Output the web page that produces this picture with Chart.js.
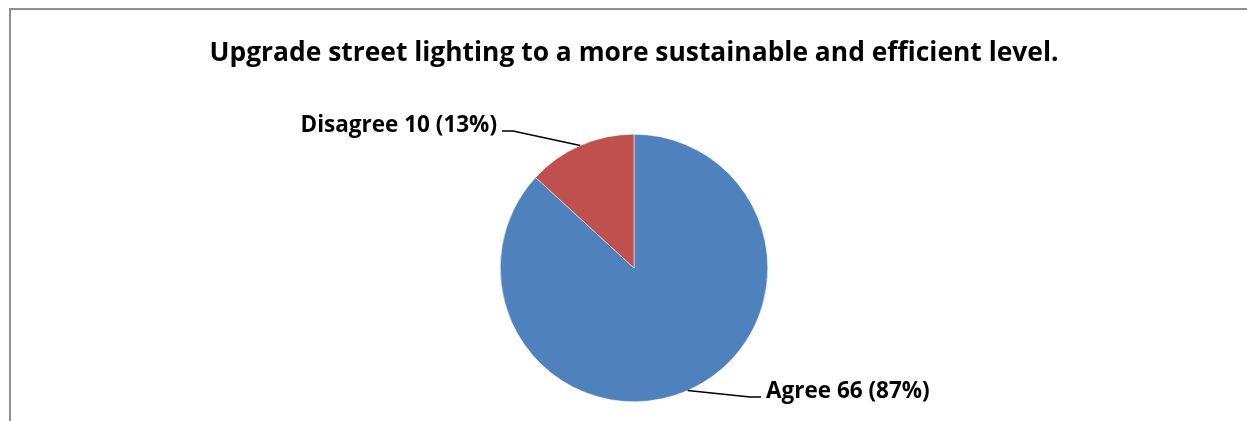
<!DOCTYPE html>
<html>
<head>
<meta charset="utf-8">
<script src="https://cdn.jsdelivr.net/npm/chart.js@4.4.1/dist/chart.umd.min.js"></script>
<style>
  html, body { margin: 0; padding: 0; background: #fff; overflow: hidden; }
  #wrap { position: relative; width: 1247px; height: 421px; }
</style>
</head>
<body>
<div id="wrap"><canvas id="grafico" width="1247" height="421"></canvas></div>
<script>
// Datos del gráfico
var categorias = ['Agree', 'Disagree'];
var respuestas = [66, 10];
var porcentajes = [87, 13];
var colores = ['#4F81BD', '#C0504D'];
var titulo = 'Upgrade street lighting to a more sustainable and efficient level.';

var fuente = '"Open Sans", "Liberation Sans", sans-serif';

// Marco gris como en la hoja original
var marco = {
    id: 'marco',
    beforeDraw: function(chart) {
        var ctx = chart.ctx;
        ctx.save();
        ctx.strokeStyle = '#8e8e8e';
        ctx.lineWidth = 2;
        ctx.beginPath();
        ctx.moveTo(10, 421);
        ctx.lineTo(10, 9);
        ctx.lineTo(1247, 9);
        ctx.stroke();
        ctx.restore();
    }
};

// Etiquetas con líneas guía (codo relativo al centro del pastel)
var codos = [{ dx: 116, dy: 129, lado: 1 }, { dx: -121, dy: -137, lado: -1 }];

var etiquetas = {
    id: 'etiquetas',
    afterDraw: function(chart) {
        var ctx = chart.ctx;
        var arcos = chart.getDatasetMeta(0).data;
        ctx.save();
        ctx.font = 'bold 22.5px ' + fuente;
        ctx.fillStyle = '#000';
        ctx.strokeStyle = '#000';
        ctx.lineWidth = 1.5;
        arcos.forEach(function(arco, i) {
            var medio = (arco.startAngle + arco.endAngle) / 2;
            var px = arco.x + Math.cos(medio) * arco.outerRadius;
            var py = arco.y + Math.sin(medio) * arco.outerRadius;
            var ex = arco.x + codos[i].dx;
            var ey = arco.y + codos[i].dy;
            var fx = ex + codos[i].lado * 11;
            ctx.beginPath();
            ctx.moveTo(px, py);
            ctx.lineTo(ex, ey);
            ctx.lineTo(fx, ey);
            ctx.stroke();
            var texto = categorias[i] + ' ' + respuestas[i] + ' (' + porcentajes[i] + '%)';
            ctx.textAlign = codos[i].lado > 0 ? 'left' : 'right';
            ctx.textBaseline = 'alphabetic';
            ctx.fillText(texto, fx + codos[i].lado * 5, ey + 1);
        });
        ctx.restore();
    }
};

var ctxGrafico = document.getElementById('grafico').getContext('2d');
var grafico = new Chart(ctxGrafico, {
    type: 'pie',
    data: {
        labels: categorias,
        datasets: [{
            data: respuestas,
            backgroundColor: colores,
            borderColor: '#ffffff',
            borderWidth: 0.5
        }]
    },
    options: {
        responsive: false,
        animation: false,
        events: [],
        layout: { padding: { left: 21, bottom: 19 } },
        plugins: {
            legend: { display: false },
            tooltip: { enabled: false },
            title: {
                display: true,
                text: titulo,
                color: '#000',
                font: { family: fuente, size: 26.4, weight: 'bold', lineHeight: 1.2 },
                padding: { top: 37.2, bottom: 65.1 }
            }
        }
    },
    plugins: [marco, etiquetas]
});
</script>
</body>
</html>
